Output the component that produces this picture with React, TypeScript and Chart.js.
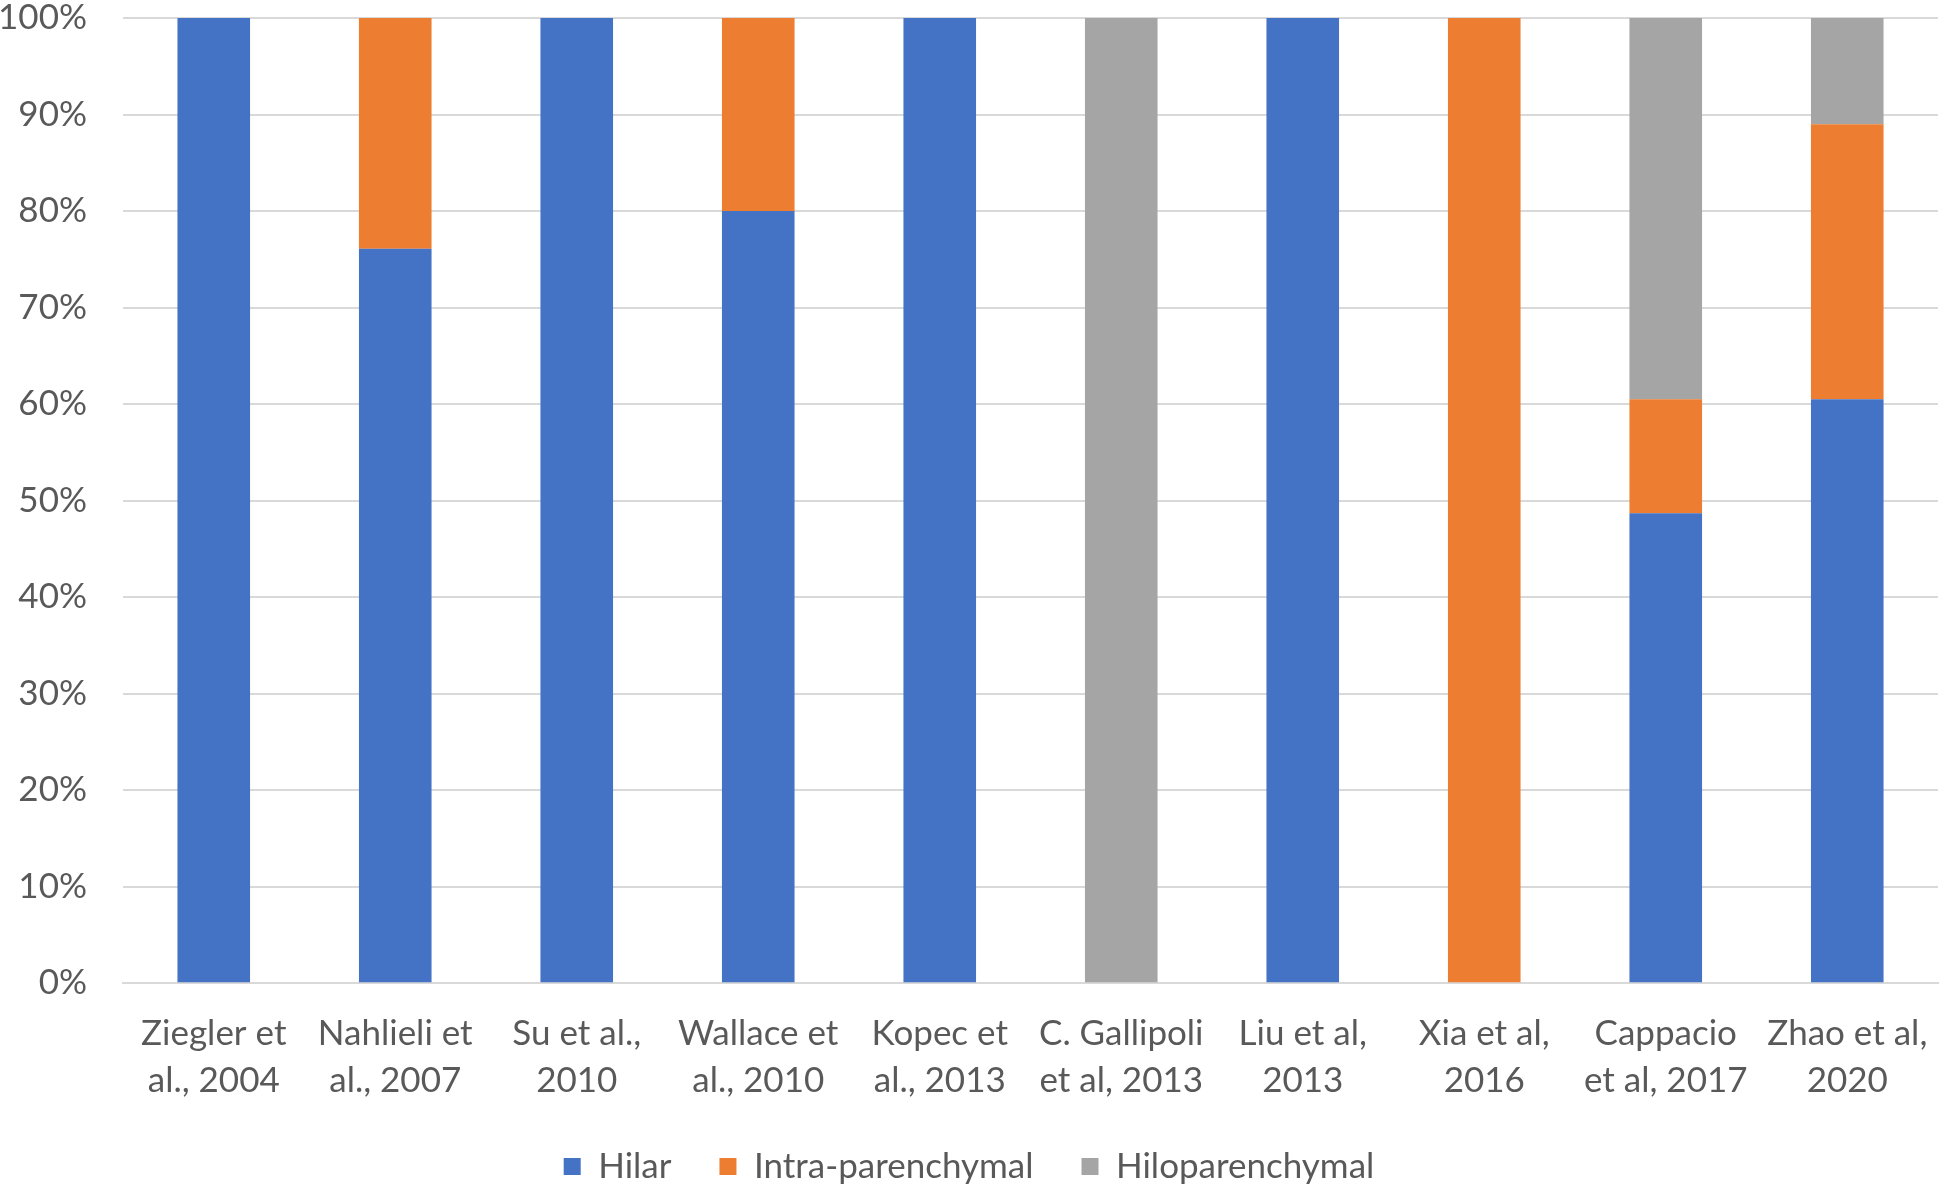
import React, { useEffect, useRef } from "react";
import { Chart, registerables } from "chart.js";

Chart.register(...registerables);

const categories: string[][] = [
  ["Ziegler et", "al., 2004"],
  ["Nahlieli et", "al., 2007"],
  ["Su et al.,", "2010"],
  ["Wallace et", "al., 2010"],
  ["Kopec et", "al., 2013"],
  ["C. Gallipoli", "et al, 2013"],
  ["Liu et al,", "2013"],
  ["Xia et al,", "2016"],
  ["Cappacio", "et al, 2017"],
  ["Zhao et al,", "2020"],
];

const hilar = [100, 76.1, 100, 80, 100, 0, 100, 0, 48.7, 60.5];
const intraParenchymal = [0, 23.9, 0, 20, 0, 0, 0, 100, 11.8, 28.5];
const hiloparenchymal = [0, 0, 0, 0, 0, 100, 0, 0, 39.5, 11];

const seriesNames = ["Hilar", "Intra-parenchymal", "Hiloparenchymal"];
const seriesColors = ["#4472C4", "#ED7D31", "#A5A5A5"];

export default function App() {
  const ref = useRef<HTMLCanvasElement | null>(null);

  useEffect(() => {
    if (!ref.current) return;
    const font = "Lato, 'Open Sans', sans-serif";
    const chart = new Chart(ref.current, {
      type: "bar",
      data: {
        labels: categories,
        datasets: [hilar, intraParenchymal, hiloparenchymal].map((d, i) => ({
          label: seriesNames[i],
          data: d,
          backgroundColor: seriesColors[i],
          borderWidth: 0,
          categoryPercentage: 1,
          barPercentage: 0.4,
        })),
      },
      options: {
        animation: false,
        responsive: false,
        maintainAspectRatio: false,
        layout: { padding: { top: 0, right: 6, left: 0, bottom: -9 } },
        plugins: {
          legend: {
            position: "bottom",
            labels: {
              boxWidth: 17,
              boxHeight: 17,
              padding: 48,
              color: "#595959",
              font: { family: font, size: 35 },
            },
          },
          tooltip: { enabled: false },
        },
        scales: {
          x: {
            stacked: true,
            grid: { display: false, drawTicks: false },
            border: { color: "#D9D9D9", width: 2 },
            afterFit: (s: any) => {
              s.height = s.height - 30;
              s.paddingLeft = 0;
              s.paddingRight = 0;
            },
            ticks: {
              color: "#595959",
              font: { family: font, size: 35, lineHeight: 1.34 },
              padding: 27,
              maxRotation: 0,
              autoSkip: false,
            },
          },
          y: {
            stacked: true,
            min: 0,
            max: 100,
            grid: { color: "#D9D9D9", lineWidth: 2, drawTicks: false },
            border: { display: false },
            afterFit: (s: any) => {
              s.width = 123;
              s.paddingTop = 18;
              s.paddingBottom = 0;
            },
            ticks: {
              stepSize: 10,
              color: "#595959",
              font: { family: font, size: 35 },
              padding: 36,
              callback: (v: any) => v + "%",
            },
          },
        },
      },
    });
    return () => chart.destroy();
  }, []);

  return (
    <div
      style={{
        position: "fixed",
        left: 0,
        top: 0,
        width: 1944,
        height: 1185,
        background: "#ffffff",
      }}
    >
      <canvas ref={ref} width={1944} height={1185} style={{ width: 1944, height: 1185 }} />
    </div>
  );
}
